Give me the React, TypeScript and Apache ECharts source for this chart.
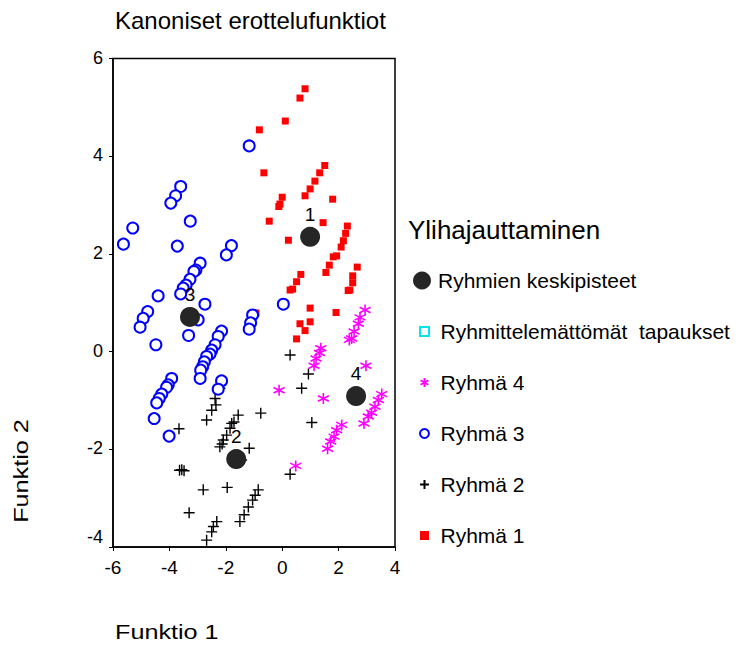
import React, { useEffect, useRef } from 'react';
import * as echarts from 'echarts';

const FONT = '"Liberation Sans", Arial, Helvetica, sans-serif';

const xTicks = [-6, -4, -2, 0, 2, 4];
const yTicks = [-4, -2, 0, 2, 4, 6];

const centroidLabels = ['1', '2', '3', '4'];
const centroids: [number, number][] = [
  [0.99, 2.35], [-1.63, -2.2], [-3.27, 0.71], [2.62, -0.91],
];

const ryhma1: [number, number][] = [
  [0.81, 5.38], [0.63, 5.19], [0.11, 4.72], [-0.81, 4.54], [-0.65, 3.66],
  [1.51, 3.81], [1.33, 3.66], [1.16, 3.49], [0.99, 3.33], [0.81, 3.19],
  [0.0, 3.16], [-0.08, 3.02], [-0.12, 2.97], [1.79, 3.12], [-0.46, 2.67],
  [1.45, 2.64], [0.22, 2.28], [2.31, 2.57], [2.25, 2.42], [2.17, 2.27],
  [2.09, 2.14], [1.93, 1.96], [1.81, 1.94], [1.67, 1.77], [1.55, 1.62],
  [2.66, 1.73], [2.5, 1.55], [2.5, 1.41], [2.4, 1.26], [2.34, 1.25],
  [0.66, 1.58], [0.51, 1.43], [0.37, 1.28], [0.28, 1.26], [0.99, 0.89],
  [0.99, 0.61], [1.91, 0.8], [0.63, 0.57], [0.81, 0.43], [0.51, 0.26],
  [-0.93, 0.79],
];

const ryhma2: [number, number][] = [
  [0.28, -0.07], [0.93, -0.46], [0.69, -0.75], [-0.76, -1.26], [-1.56, -1.3],
  [1.05, -1.45], [0.28, -2.51], [-1.71, -1.44], [-1.17, -1.98], [-1.44, -2.22],
  [-0.85, -2.83], [-0.96, -2.94], [-1.05, -3.04], [-1.2, -3.18], [-1.35, -3.34],
  [-1.5, -3.48], [-2.21, -0.75], [-2.38, -0.96], [-2.35, -1.09], [-2.5, -1.2],
  [-2.68, -1.4], [-3.66, -1.58], [-1.79, -1.47], [-1.85, -1.57], [-1.97, -1.71],
  [-2.09, -1.81], [-2.21, -1.95], [-3.56, -2.42], [-3.48, -2.44], [-3.64, -2.43],
  [-2.8, -2.83], [-1.95, -2.78], [-3.3, -3.3], [-2.32, -3.48], [-2.44, -3.58],
  [-2.5, -3.69], [-2.68, -3.86], [-2.13, -1.89],
];

const ryhma3: [number, number][] = [
  [-1.17, 4.21], [-3.6, 3.38], [-3.78, 3.19], [-3.95, 3.04], [-5.3, 2.53],
  [-5.63, 2.2], [-3.26, 2.67], [-3.72, 2.16], [-1.8, 2.17], [-1.98, 1.98],
  [-2.91, 1.81], [-3.06, 1.67], [-3.13, 1.64], [-3.27, 1.48], [-3.41, 1.36],
  [-3.51, 1.3], [-3.6, 1.18], [-4.4, 1.14], [-2.74, 0.97], [-4.77, 0.82],
  [-4.93, 0.68], [-5.04, 0.5], [-2.98, 0.65], [-3.32, 0.33], [-2.15, 0.42],
  [-2.27, 0.31], [-1.05, 0.75], [-1.12, 0.59], [-1.17, 0.46], [0.04, 0.97],
  [-4.48, 0.14], [-2.38, 0.14], [-2.5, 0.03], [-2.56, -0.05], [-2.68, -0.1],
  [-2.76, -0.21], [-2.82, -0.31], [-2.89, -0.38], [-2.91, -0.55], [-2.15, -0.6],
  [-2.27, -0.77], [-3.92, -0.55], [-4.04, -0.68], [-4.1, -0.73], [-4.27, -0.87],
  [-4.36, -0.96], [-4.45, -1.05], [-4.54, -1.37], [-4.01, -1.73],
];

const ryhma4: [number, number][] = [
  [2.94, 0.85], [2.76, 0.7], [2.7, 0.57], [2.55, 0.41], [2.46, 0.27],
  [2.38, 0.24], [1.37, 0.07], [1.32, -0.03], [1.2, -0.14], [1.13, -0.29],
  [2.97, -0.29], [1.46, -0.96], [-0.11, -0.79], [3.53, -0.87], [3.41, -0.99],
  [3.29, -1.13], [3.17, -1.25], [3.05, -1.33], [2.9, -1.47], [2.11, -1.5],
  [1.93, -1.61], [1.84, -1.74], [1.72, -1.84], [1.61, -1.99], [0.48, -2.34],
];

const ungrouped: [number, number][] = [];

const seriesNames = [
  'Ryhmien keskipisteet',
  'Ryhmittelemättömät  tapaukset',
  'Ryhmä 4',
  'Ryhmä 3',
  'Ryhmä 2',
  'Ryhmä 1',
];

const PLUS = 'path://M0,5L10,5M5,0L5,10';
const STAR = 'path://M5,0L5,10M0.67,2.5L9.33,7.5M0.67,7.5L9.33,2.5';

export default function App() {
  const ref = useRef<HTMLDivElement>(null);
  useEffect(() => {
    if (!ref.current) return;
    const chart = echarts.init(ref.current, undefined, { renderer: 'svg' });
    const option: any = {
      animation: false,
      backgroundColor: '#fff',
      textStyle: { fontFamily: FONT },
      grid: {
        left: 113, right: 349, top: 58.5, bottom: 99,
        show: true, borderColor: '#000', borderWidth: 1.5, backgroundColor: 'transparent',
      },
      xAxis: {
        type: 'value', min: xTicks[0], max: xTicks[xTicks.length - 1], interval: 2,
        axisLine: { show: true, onZero: false, lineStyle: { color: '#000', width: 1.5 } },
        axisTick: { show: true, length: 4, lineStyle: { color: '#000' } },
        splitLine: { show: false },
        axisLabel: { color: '#000', fontSize: 19, fontFamily: FONT, margin: 11 },
      },
      yAxis: {
        type: 'value', min: yTicks[0], max: yTicks[yTicks.length - 1], interval: 2,
        axisLine: { show: true, onZero: false, lineStyle: { color: '#000', width: 1.5 } },
        axisTick: { show: true, length: 4, lineStyle: { color: '#000' } },
        splitLine: { show: false },
        axisLabel: {
          color: '#000', fontSize: 18, fontFamily: FONT, margin: 10,
          formatter: (v: number) => (v === yTicks[0] ? '{up|' + v + '}' : '{n|' + v + '}'),
          rich: {
            up: { fontSize: 18, fontFamily: FONT, color: '#000', padding: [0, 0, 20, 0] },
            n: { fontSize: 18, fontFamily: FONT, color: '#000', padding: [0, 0, 2, 0] },
          },
        },
      },
      legend: [
        {
          data: [seriesNames[0]],
          orient: 'vertical', left: 413, top: 270, padding: 0,
          itemWidth: 18, itemHeight: 18,
          textStyle: { fontFamily: FONT, fontSize: 21, color: '#000', padding: [0, 0, 0, 2] },
        },
        {
          data: seriesNames.slice(1),
          orient: 'vertical', left: 417.5, top: 320.5, padding: 0,
          itemWidth: 9, itemHeight: 9, itemGap: 29,
          textStyle: { fontFamily: FONT, fontSize: 21, color: '#000', lineHeight: 22, padding: [0, 0, 0, 6.5] },
        },
      ],
      graphic: [
        {
          type: 'text', x: 115, y: 20,
          style: { text: 'Kanoniset erottelufunktiot', font: '24px ' + FONT, fill: '#000', verticalAlign: 'middle' },
        },
        {
          type: 'text', x: 408, y: 230,
          style: { text: 'Ylihajauttaminen', font: '26px ' + FONT, fill: '#000', verticalAlign: 'middle' },
        },
        {
          type: 'text', x: 115, y: 632, scaleX: 1.2,
          style: { text: 'Funktio 1', font: '21px ' + FONT, fill: '#000', verticalAlign: 'middle' },
        },
        {
          type: 'text', x: 21, y: 471, rotation: Math.PI / 2, scaleX: 1.2,
          style: { text: 'Funktio 2', font: '21px ' + FONT, fill: '#000', align: 'center', verticalAlign: 'middle' },
        },
      ],
      series: [
        {
          name: seriesNames[5], type: 'scatter', data: ryhma1, symbol: 'rect', symbolSize: 7,
          itemStyle: { color: '#ff0000', opacity: 1 }, z: 2,
        },
        {
          name: seriesNames[4], type: 'scatter', data: ryhma2, symbol: PLUS, symbolSize: 11,
          itemStyle: { color: 'none', borderColor: '#000', borderWidth: 1.4, opacity: 1 }, z: 2,
        },
        {
          name: seriesNames[3], type: 'scatter', data: ryhma3, symbol: 'emptyCircle', symbolSize: 11,
          itemStyle: { color: '#0000ff', borderColor: '#0000ff', borderWidth: 1.5, opacity: 1 }, z: 2,
        },
        {
          name: seriesNames[2], type: 'scatter', data: ryhma4, symbol: STAR, symbolSize: 11,
          itemStyle: { color: 'none', borderColor: '#ff00ff', borderWidth: 1.6, opacity: 1 }, z: 2,
        },
        {
          name: seriesNames[1], type: 'scatter', data: ungrouped, symbol: 'rect', symbolSize: 7,
          itemStyle: { color: '#fff', borderColor: '#00e5ee', borderWidth: 1.5, opacity: 1 }, z: 2,
        },
        {
          name: seriesNames[0], type: 'scatter', symbol: 'circle', symbolSize: 20,
          data: centroids.map((c, i) => ({ value: c, name: centroidLabels[i] })),
          itemStyle: { color: '#262626', opacity: 1 }, z: 3,
          label: {
            show: true, position: 'top', distance: 3, formatter: '{b}',
            fontFamily: FONT, fontSize: 19, color: '#000',
          },
        },
      ],
    };
    chart.setOption(option);
    return () => chart.dispose();
  }, []);
  return <div ref={ref} style={{ width: 744, height: 646, position: 'absolute', left: 0, top: 0 }} />;
}
